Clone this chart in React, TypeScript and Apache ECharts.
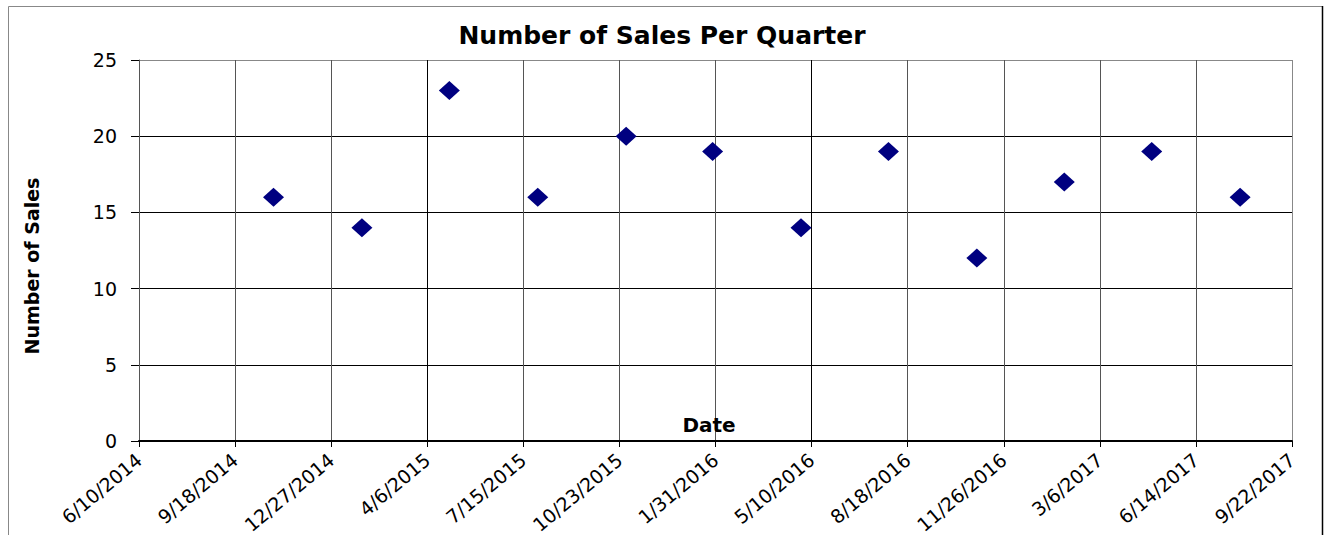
import React, { useEffect, useRef } from 'react';
import * as echarts from 'echarts';

// ---- data ----
const AXIS_START_DATE = '2014-06-10';
const saleDates = [
  '2014-10-28', '2015-01-28', '2015-04-29', '2015-07-30',
  '2015-10-30', '2016-01-28', '2016-04-29', '2016-07-29',
  '2016-10-29', '2017-01-28', '2017-04-29', '2017-07-30',
];
const salesCounts = [16, 14, 23, 16, 20, 19, 14, 19, 12, 17, 19, 16];
const xAxisSpanDays = 1200;
const xTickStepDays = 100;
const yMax = 25;
const yStep = 5;
const titleText = 'Number of Sales Per Quarter';
const xAxisTitle = 'Date';
const yAxisTitle = 'Number of Sales';

// ---- helpers ----
const DAY_MS = 86400000;
const parseUTC = (s: string) => {
  const [y, m, d] = s.split('-').map(Number);
  return Date.UTC(y, m - 1, d);
};
const baseMs = parseUTC(AXIS_START_DATE);
const toDayOffset = (s: string) => Math.round((parseUTC(s) - baseMs) / DAY_MS);
const formatDay = (days: number) => {
  const dt = new Date(baseMs + Math.round(days) * DAY_MS);
  return `${dt.getUTCMonth() + 1}/${dt.getUTCDate()}/${dt.getUTCFullYear()}`;
};

const points = saleDates.map((d, i) => [toDayOffset(d), salesCounts[i]]);

const vLineColors = ['#555', '#555', '#555', '#000', '#555', '#555', '#555', '#000', '#555', '#555', '#555', '#555', '#888'];
const hLineColors = ['#000', '#000', '#000', '#000', '#000', '#888'];

export default function App() {
  const ref = useRef<HTMLDivElement>(null);
  useEffect(() => {
    if (!ref.current) return;
    const chart = echarts.init(ref.current, null, { renderer: 'svg' });
    chart.setOption({
      animation: false,
      backgroundColor: '#fff',
      title: {
        text: titleText,
        left: 'center',
        top: 18,
        textStyle: { fontFamily: 'DejaVu Sans', fontWeight: 'bold', fontSize: 25, color: '#000' },
      },
      graphic: [
        {
          type: 'rect',
          shape: { x: 8.5, y: 6.5, width: 1314, height: 540 },
          style: { fill: 'none', stroke: '#888', lineWidth: 1 },
          silent: true,
        },
        {
          type: 'line',
          shape: { x1: 1322.5, y1: 6, x2: 1322.5, y2: 535 },
          style: { stroke: '#000', lineWidth: 1.5 },
          silent: true,
        },
        {
          type: 'text',
          x: 32,
          y: 266,
          rotation: Math.PI / 2,
          style: {
            text: yAxisTitle,
            fontFamily: 'DejaVu Sans',
            fontWeight: 'bold',
            fontSize: 19,
            fill: '#000',
            align: 'center',
            verticalAlign: 'middle',
          },
          silent: true,
        },
      ],
      grid: { left: 139, right: 32, top: 60, bottom: 94, containLabel: false, outerBoundsMode: 'none' },
      xAxis: {
        type: 'value',
        min: 0,
        max: xAxisSpanDays,
        interval: xTickStepDays,
        name: xAxisTitle,
        nameLocation: 'middle',
        nameGap: -26,
        nameMoveOverlap: false,
        nameTextStyle: {
          fontFamily: 'DejaVu Sans', fontWeight: 'bold', fontSize: 20, color: '#000',
          padding: [0, 13, 0, 0],
        },
        axisLine: { show: true, onZero: false, lineStyle: { color: '#000', width: 2 } },
        axisTick: { show: true, inside: false, length: 6, lineStyle: { color: '#000' } },
        axisLabel: {
          formatter: (v: number) => formatDay(v),
          rotate: 40,
          margin: 16,
          fontFamily: 'DejaVu Sans',
          fontSize: 19,
          color: '#000',
          showMinLabel: true,
          showMaxLabel: true,
        },
        splitLine: { show: true, lineStyle: { color: vLineColors, width: 1 } },
      },
      yAxis: {
        type: 'value',
        min: 0,
        max: yMax,
        interval: yStep,
        axisLine: { show: true, lineStyle: { color: '#555', width: 1 } },
        axisTick: { show: true, inside: false, length: 8, lineStyle: { color: '#000' } },
        axisLabel: { margin: 22, fontFamily: 'DejaVu Sans', fontSize: 19, color: '#000' },
        splitLine: { show: true, lineStyle: { color: hLineColors, width: 1 } },
      },
      series: [
        {
          type: 'scatter',
          data: points,
          symbol: 'diamond',
          symbolSize: [21, 19],
          itemStyle: { color: '#000080', opacity: 1 },
        },
      ],
    });
    return () => chart.dispose();
  }, []);
  return (
    <div
      ref={ref}
      style={{ position: 'absolute', left: 0, top: 0, width: 1324, height: 535 }}
    />
  );
}
